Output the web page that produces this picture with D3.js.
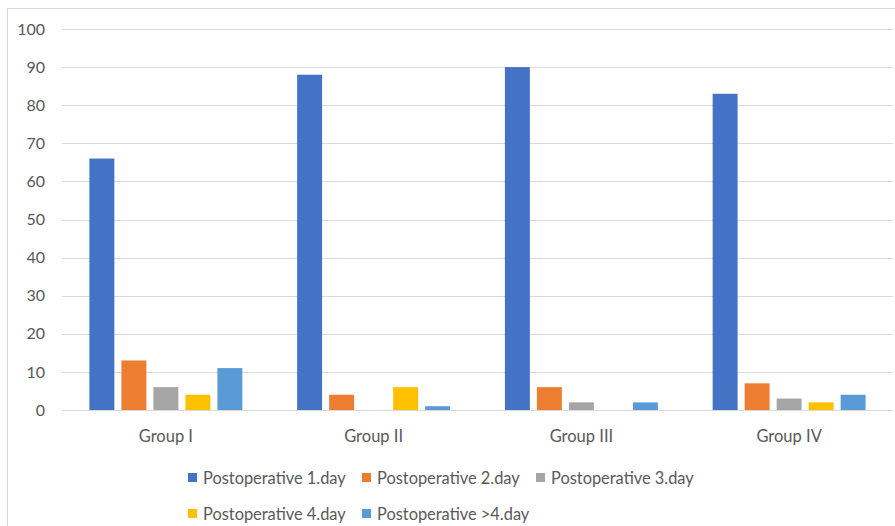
<!DOCTYPE html>
<html>
<head>
<meta charset="utf-8">
<script src="https://cdn.jsdelivr.net/npm/d3@7/dist/d3.min.js"></script>
<style>
  html, body { margin: 0; padding: 0; background: #fff; }
  svg { display: block; font-family: Lato, "Open Sans", sans-serif; }
</style>
</head>
<body>
<svg id="chart" width="895" height="526"></svg>
<script>
// Groups along the x axis
const groups = ["Group I", "Group II", "Group III", "Group IV"];
// Series names (legend order)
const seriesNames = [
  "Postoperative 1.day",
  "Postoperative 2.day",
  "Postoperative 3.day",
  "Postoperative 4.day",
  "Postoperative >4.day"
];
// Values per series, one entry per group
const day1 = [66, 88, 90, 83];
const day2 = [13, 4, 6, 7];
const day3 = [6, 0, 2, 3];
const day4 = [4, 6, 0, 2];
const dayOver4 = [11, 1, 2, 4];
const yTicks = [0, 10, 20, 30, 40, 50, 60, 70, 80, 90, 100];
const colors = ["#4472C4", "#ED7D31", "#A5A5A5", "#FFC000", "#5B9BD5"];

const seriesValues = [day1, day2, day3, day4, dayOver4];

const svg = d3.select("#chart");
const textColor = "#595959";
const gridColor = "#D9D9D9";

// Outer chart frame
svg.append("rect")
  .attr("x", 7.5).attr("y", 8.5)
  .attr("width", 900).attr("height", 530)
  .attr("fill", "none").attr("stroke", gridColor).attr("stroke-width", 1);

const plot = { left: 62, right: 893, top: 29, bottom: 410 };

const y = d3.scaleLinear().domain([0, 100]).range([plot.bottom, plot.top]);
const x0 = d3.scaleBand().domain(groups).range([plot.left, plot.right]);
const innerSpan = 160;
const x1 = d3.scaleBand().domain(seriesNames)
  .range([0, innerSpan]).paddingInner(0.22).paddingOuter(0.11);

// Horizontal gridlines
svg.append("g").selectAll("line")
  .data(yTicks)
  .join("line")
  .attr("x1", plot.left).attr("x2", plot.right)
  .attr("y1", d => Math.round(y(d)) + 0.5)
  .attr("y2", d => Math.round(y(d)) + 0.5)
  .attr("stroke", gridColor).attr("stroke-width", 1.2);

// Y axis labels
const yAxis = d3.axisLeft(y).tickValues(yTicks).tickSize(0).tickPadding(0);
svg.append("g")
  .attr("transform", `translate(45,0)`)
  .call(yAxis)
  .call(g => g.select(".domain").remove())
  .call(g => g.selectAll("text")
    .attr("fill", textColor)
    .style("font-size", "16px")
    .style("font-family", "Lato, sans-serif"));

// Bars
const groupG = svg.append("g").selectAll("g")
  .data(groups)
  .join("g")
  .attr("transform", g => `translate(${x0(g) + (x0.bandwidth() - innerSpan) / 2},0)`);

groupG.selectAll("rect")
  .data((g, gi) => seriesNames.map((s, si) => ({ s, si, v: seriesValues[si][gi] })))
  .join("rect")
  .filter(d => d.v > 0)
  .attr("x", d => x1(d.s))
  .attr("width", x1.bandwidth())
  .attr("y", d => y(d.v))
  .attr("height", d => y(0) - y(d.v))
  .attr("fill", d => colors[d.si]);

// Category labels
const xAxis = d3.axisBottom(x0).tickSize(0).tickPadding(0);
svg.append("g")
  .attr("transform", `translate(0,${plot.bottom})`)
  .call(xAxis)
  .call(g => g.select(".domain").remove())
  .call(g => g.selectAll("text")
    .attr("dy", null)
    .attr("y", 32)
    .attr("fill", textColor)
    .style("font-size", "16.5px")
    .style("font-family", "Lato, sans-serif"));

// Legend: three items on the first row, two on the second
const legendStartX = 188;
const slotWidth = 174;
const rowY = [478, 514];
const legend = svg.append("g");
seriesNames.forEach((name, i) => {
  const row = i < 3 ? 0 : 1;
  const col = i < 3 ? i : i - 3;
  const gx = legendStartX + col * slotWidth;
  const item = legend.append("g").attr("transform", `translate(${gx},${rowY[row]})`);
  item.append("rect")
    .attr("x", 0).attr("y", -5).attr("width", 9).attr("height", 9)
    .attr("fill", colors[i]);
  item.append("text")
    .attr("x", 15).attr("y", 0).attr("dy", "0.35em")
    .attr("fill", textColor)
    .style("font-size", "16.4px")
    .text(name);
});
</script>
</body>
</html>
